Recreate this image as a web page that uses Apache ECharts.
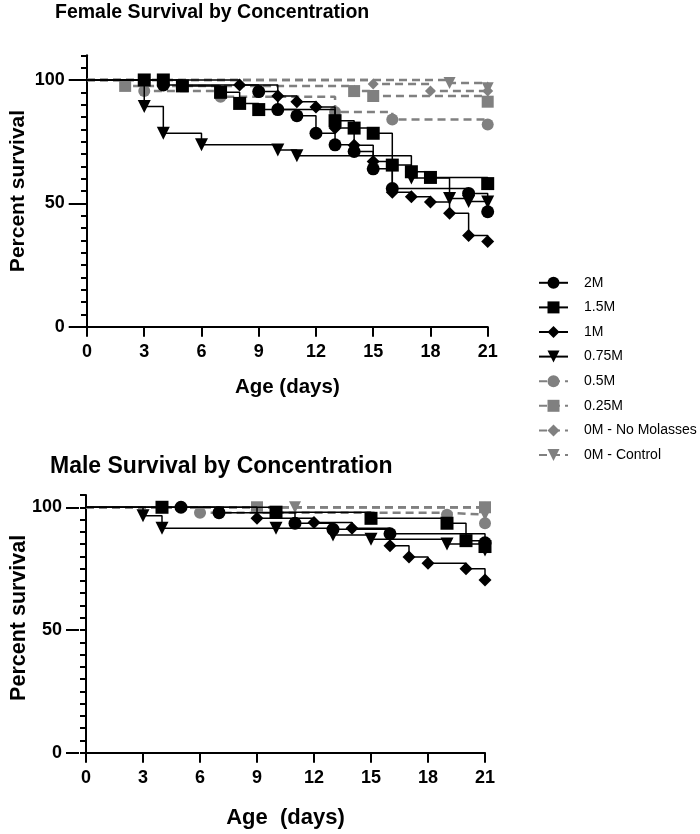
<!DOCTYPE html>
<html>
<head>
<meta charset="utf-8">
<script src="https://cdn.jsdelivr.net/npm/echarts@6/dist/echarts.min.js"></script>
<style>html,body{margin:0;padding:0;background:#fff}#c{width:700px;height:834px}</style>
</head>
<body>
<div id="c"></div>
<script>
// ---- Data (day, percent survival) ----
const seriesNames = ['2M', '1.5M', '1M', '0.75M', '0.5M', '0.25M', '0M - No Molasses', '0M - Control'];
const xTicks = [0, 3, 6, 9, 12, 15, 18, 21];
const yTicks = [0, 50, 100];

// Female
const f2M   = [[0,100],[4,98],[9,95.3],[10,88],[11,85.5],[12,78.4],[13,73.7],[14,71],[15,64],[16,56],[20,54],[21,46.6]];
const f15M  = [[0,100],[3,100],[4,100],[5,97.6],[7,95],[8,90.5],[9,88],[13,83.5],[14,80.5],[15,78.4],[16,65.5],[17,62.8],[18,60.5],[21,58]];
const f1M   = [[0,100],[8,98],[10,93.5],[11,91.2],[12,89],[13,80.5],[14,73.5],[15,67],[16,54.5],[17,52.7],[18,50.5],[19,46],[20,37],[21,34.5]];
const f075M = [[0,100],[3,89.2],[4,78.4],[6,73.7],[10,71.6],[11,69.3],[17,60.3],[19,52],[20,50.7],[21,50.5]];
const f05M  = [[0,100],[3,95.5],[7,93.2],[13,87],[16,84],[21,82]];
const f025M = [[0,100],[2,97.6],[14,95.5],[15,93.5],[21,91.2]];
const fNM   = [[0,100],[15,98.4],[18,95.5],[21,95.5]];
const fCtrl = [[0,100],[19,98.8],[21,96.6]];

// Male
const m2M   = [[0,100],[5,100],[7,97.8],[11,93.5],[13,91],[16,89.2],[21,85.5]];
const m15M  = [[0,100],[4,100],[10,98],[15,95.5],[19,93.5],[20,86.4],[21,84]];
const m1M   = [[0,100],[9,95.5],[12,93.8],[14,91.5],[16,84.3],[17,79.7],[18,77.2],[20,75],[21,70.4]];
const m075M = [[0,100],[3,96.5],[4,91.5],[10,91.5],[13,88.7],[15,87],[19,85],[21,82.6]];
const m05M  = [[0,100],[6,97.8],[19,97],[21,93.5]];
const m025M = [[0,100],[9,100],[21,100]];
const mNM   = [[0,100],[21,100]];
const mCtrl = [[0,100],[11,100],[21,97]];

const femaleData = [f2M, f15M, f1M, f075M, f05M, f025M, fNM, fCtrl];
const maleData   = [m2M, m15M, m1M, m075M, m05M, m025M, mNM, mCtrl];

// ---- Styles ----
const FONT = 'Liberation Sans, Arial, sans-serif';
const GRAY = '#808080';
const styles = [
  {sym:'circle',  size:13, rot:0,   color:'#000', dashed:false},
  {sym:'rect',    size:13, rot:0,   color:'#000', dashed:false},
  {sym:'diamond', size:[13,13], rot:0, color:'#000', dashed:false},
  {sym:'triangle',size:13, rot:180, color:'#000', dashed:false},
  {sym:'circle',  size:12, rot:0,   color:GRAY, dashed:true},
  {sym:'rect',    size:12, rot:0,   color:GRAY, dashed:true},
  {sym:'diamond', size:[11,11], rot:0, color:GRAY, dashed:true},
  {sym:'triangle',size:12, rot:180, color:GRAY, dashed:true}
];

function mkSeries(idx, data, axisIdx) {
  const s = styles[idx];
  return {
    type: 'line', name: seriesNames[idx],
    xAxisIndex: axisIdx, yAxisIndex: axisIdx,
    step: 'end',
    data: data.map((p, i) => i === 0 ? {value: p, symbol: 'none'} : p),
    symbol: s.sym, symbolSize: s.size, symbolRotate: s.rot,
    showAllSymbol: true, silent: true,
    itemStyle: {color: s.color},
    lineStyle: {color: s.color, width: s.dashed ? 2.5 : 1.5, type: s.dashed ? [8, 5] : 'solid'},
    z: s.dashed ? 2 : 3
  };
}

const series = [];
femaleData.forEach((d, i) => series.push(mkSeries(i, d, 0)));
maleData.forEach((d, i) => series.push(mkSeries(i, d, 2)));

const axLine = {show: true, lineStyle: {color: '#000', width: 2}};
function xAxisMain(grid, name, gap, nsize) {
  return {
    type: 'value', gridIndex: grid, min: 0, max: 21, interval: 3,
    axisLine: axLine,
    axisTick: {show: true, length: 10, lineStyle: {color: '#000', width: 2}},
    axisLabel: {fontFamily: FONT, fontWeight: 'bold', fontSize: 18, color: '#000', margin: 16,
      formatter: v => xTicks.includes(v) ? String(v) : ''},
    splitLine: {show: false},
    name: name, nameLocation: 'middle', nameGap: gap,
    nameTextStyle: {fontFamily: FONT, fontWeight: 'bold', fontSize: nsize, color: '#000'}
  };
}
function xAxisHidden(grid) {
  return {type: 'value', gridIndex: grid, min: 0, max: 21, show: false};
}
function yAxisMinor(grid, max, gap, nsize, pad) {
  return {
    type: 'value', gridIndex: grid, min: 0, max: max, interval: 5,
    axisLine: axLine,
    axisTick: {show: true, length: 6, lineStyle: {color: '#000', width: 2}},
    axisLabel: {show: false},
    splitLine: {show: false},
    name: 'Percent survival', nameLocation: 'middle', nameGap: gap,
    nameTextStyle: {fontFamily: FONT, fontWeight: 'bold', fontSize: nsize, color: '#000', padding: pad}
  };
}
function yAxisMajor(grid) {
  return {
    type: 'value', gridIndex: grid, min: 0, max: 100, interval: 50,
    axisLine: {show: false},
    axisTick: {show: true, length: 13, lineStyle: {color: '#000', width: 2}},
    axisLabel: {fontFamily: FONT, fontWeight: 'bold', fontSize: 18, color: '#000', margin: 17,
      formatter: v => yTicks.includes(v) ? String(v) : ''},
    splitLine: {show: false}
  };
}

const option = {
  animation: false,
  backgroundColor: '#fff',
  title: [
    {text: 'Female Survival by Concentration', left: 55, top: 3, padding: 0,
     textStyle: {fontFamily: FONT, fontWeight: 'bold', fontSize: 19.5, color: '#000'}},
    {text: 'Male Survival by Concentration', left: 50, top: 455, padding: 0,
     textStyle: {fontFamily: FONT, fontWeight: 'bold', fontSize: 23, color: '#000'}}
  ],
  legend: {
    data: seriesNames, orient: 'vertical', left: 538, top: 275.8, padding: 0,
    itemWidth: 29, itemHeight: 15, itemGap: 10.6,
    textStyle: {fontFamily: FONT, fontSize: 14, color: '#000', padding: [0, 0, 0, 11]},
    selectedMode: false
  },
  grid: [
    {left: 81.7, right: 212.3, top: 55.3, bottom: 507.3},
    {left: 81.7, right: 212.3, top: 80, bottom: 507.3},
    {left: 79, right: 215, top: 495, bottom: 81.3},
    {left: 79, right: 215, top: 507.3, bottom: 81.3}
  ],
  xAxis: [
    xAxisMain(0, 'Age (days)', 50, 20.5),
    xAxisHidden(1),
    xAxisMain(2, 'Age  (days)', 54, 22),
    xAxisHidden(3)
  ],
  yAxis: [
    yAxisMinor(0, 110, 58, 21, [0, 0, 0, 0]),
    yAxisMajor(1),
    yAxisMinor(2, 105, 56, 21.5, [0, 0, 0, 12]),
    yAxisMajor(3)
  ],
  series: series
};

const chart = echarts.init(document.getElementById('c'), null, {renderer: 'canvas'});
chart.setOption(option);
</script>
</body>
</html>
